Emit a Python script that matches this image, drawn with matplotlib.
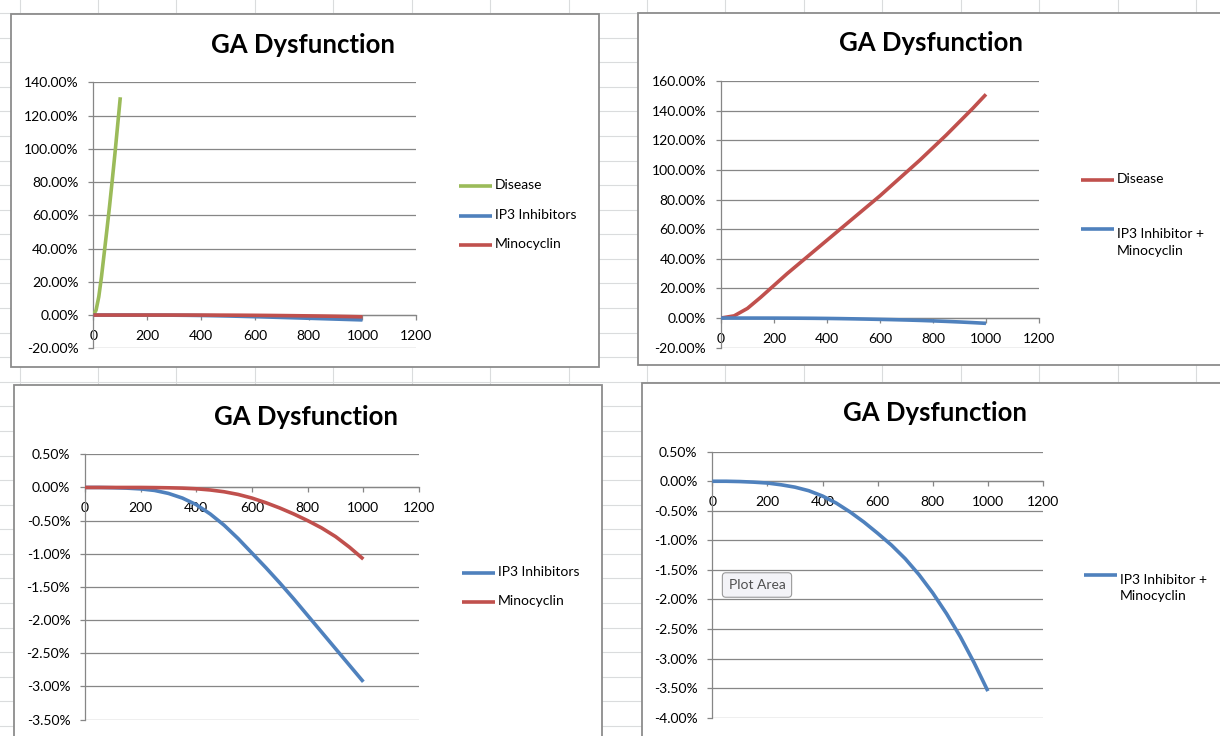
import matplotlib
matplotlib.use("Agg")
import matplotlib.pyplot as plt
from matplotlib.patches import Rectangle
from matplotlib.ticker import FuncFormatter

plt.rcParams["font.family"] = ["Lato", "DejaVu Sans"]

W, H = 1220, 736          # screenshot size in pixels

GREEN = "#9bbb59"
BLUE = "#4f81bd"
RED = "#c0504d"
AXIS = "#868686"
SHEET = "#dadcdd"

TITLE = "GA Dysfunction"

# --- data, all values in percent ---------------------------------------
# fast-rising disease curve of the first chart (only runs to x = 100)
t_short = [0, 10, 20, 30, 40, 50, 60, 70, 80, 90, 100]
disease_short = [0, 3, 11, 23, 37, 51, 65.5, 81, 97, 114, 131]

t = [0, 50, 100, 150, 200, 250, 300, 350, 400, 450, 500,
     550, 600, 650, 700, 750, 800, 850, 900, 950, 1000]
ip3_inhibitors = [0, 0, -0.004, -0.01, -0.022, -0.045, -0.09, -0.16, -0.26, -0.4, -0.57,
                  -0.77, -0.99, -1.21, -1.44, -1.68, -1.93, -2.18, -2.43, -2.68, -2.93]
minocyclin = [0, 0, 0, 0, 0, -0.002, -0.005, -0.01, -0.02, -0.038, -0.065,
              -0.105, -0.16, -0.23, -0.31, -0.4, -0.5, -0.61, -0.74, -0.9, -1.08]
disease = [0, 1.5, 6.5, 14, 22, 30, 37.5, 45, 52.5, 60, 67.5,
           75, 82.5, 90.5, 98.5, 106.5, 115, 123.5, 132.5, 141.5, 151]
ip3_plus_mino = [0, 0, -0.005, -0.015, -0.03, -0.06, -0.1, -0.16, -0.25, -0.37, -0.52,
                 -0.69, -0.88, -1.08, -1.31, -1.58, -1.89, -2.24, -2.63, -3.07, -3.55]

x_ticks = [0, 200, 400, 600, 800, 1000, 1200]

fig = plt.figure(figsize=(W / 100, H / 100), dpi=100)

# background "spreadsheet" in pixel coordinates
bg = fig.add_axes([0, 0, 1, 1])
bg.set_xlim(0, W)
bg.set_ylim(H, 0)
bg.axis("off")
for k in range(31):
    bg.axhline(13.1 + 24.58 * k, color=SHEET, lw=0.8, zorder=0)
for k in range(16):
    bg.axvline(19.5 + 78.43 * k, color=SHEET, lw=0.8, zorder=0)


def px_axes(x0, y0, x1, y1):
    return fig.add_axes([x0 / W, 1 - y1 / H, (x1 - x0) / W, (y1 - y0) / H])


def chart(frame, title_xy, plot_box, ylim, ystep, series, legend):
    fx0, fy0, fx1, fy1 = frame
    bg.add_patch(Rectangle((fx0, fy0), fx1 - fx0, fy1 - fy0, facecolor="white",
                           edgecolor="#8c8c8c", lw=1.3, zorder=1))
    bg.text(*title_xy, TITLE, ha="center", va="center", fontsize=18.5,
            fontweight="bold", zorder=3)

    ax = px_axes(*plot_box)
    ax.patch.set_alpha(0)
    for x, y, color in series:
        ax.plot(x, y, color=color, lw=2.6, solid_capstyle="butt",
                solid_joinstyle="round", zorder=3)

    ax.set_xlim(0, 1200)
    ax.set_ylim(*ylim)
    ax.set_xticks(x_ticks)
    n = round((ylim[1] - ylim[0]) / ystep)
    ax.set_yticks([ylim[0] + i * ystep for i in range(n + 1)])
    ax.yaxis.set_major_formatter(FuncFormatter(lambda v, _: f"{v:.2f}%"))
    ax.grid(axis="y", color=AXIS, lw=0.9)
    ax.set_axisbelow(True)

    ax.spines["top"].set_visible(False)
    ax.spines["right"].set_visible(False)
    ax.spines["bottom"].set_position(("data", 0))
    for s in ("left", "bottom"):
        ax.spines[s].set_color(AXIS)
        ax.spines[s].set_linewidth(0.9)
    ax.tick_params(direction="out", length=3.6, width=0.9, color=AXIS,
                   labelsize=10, pad=7)

    # legend drawn beside the plot area like Excel does it
    lx, entries = legend
    for ly, color, lines in entries:
        bg.plot([lx, lx + 33], [ly, ly], color=color, lw=2.6, zorder=3,
                solid_capstyle="butt")
        bg.text(lx + 36, ly - 1, lines, ha="left", va="top" if "\n" in lines else "center",
                fontsize=10, linespacing=1.45, zorder=3)
    return ax


# chart 1: top left
chart((11, 14, 599, 367), (303, 45), (93.4, 82.3, 416.3, 348.3), (-20, 140), 20,
      [(t_short, disease_short, GREEN), (t, ip3_inhibitors, BLUE), (t, minocyclin, RED)],
      (459, [(186, GREEN, "Disease"), (215.7, BLUE, "IP3 Inhibitors"),
             (245, RED, "Minocyclin")]))

# chart 2: top right
chart((638, 13, 1232, 365), (931, 43), (720.9, 81, 1039, 347.7), (-20, 160), 20,
      [(t, disease, RED), (t, ip3_plus_mino, BLUE)],
      (1081, [(180, RED, "Disease"), (229.3, BLUE, "IP3 Inhibitor +\nMinocyclin")]))

# chart 3: bottom left
chart((14, 385, 601.5, 750), (305.5, 416.7), (85, 454.3, 419, 719.6), (-3.5, 0.5), 0.5,
      [(t, ip3_inhibitors, BLUE), (t, minocyclin, RED)],
      (462, [(572.7, BLUE, "IP3 Inhibitors"), (601.7, RED, "Minocyclin")]))

# chart 4: bottom right
chart((642, 383, 1232, 750), (935, 413), (712.3, 451.7, 1043, 717.7), (-4.0, 0.5), 0.5,
      [(t, ip3_plus_mino, BLUE)],
      (1084, [(575, BLUE, "IP3 Inhibitor +\nMinocyclin")]))

# Excel tooltip left in the screenshot
bg.text(757, 585, "Plot Area", ha="center", va="center", fontsize=10, color="#505050",
        zorder=10, bbox=dict(boxstyle="round,pad=0.45,rounding_size=0.25",
                             fc="#f3f3f7", ec="#9a9a9a", lw=0.8))
bg.set_zorder(0)

fig.savefig("out.png", dpi=100)
